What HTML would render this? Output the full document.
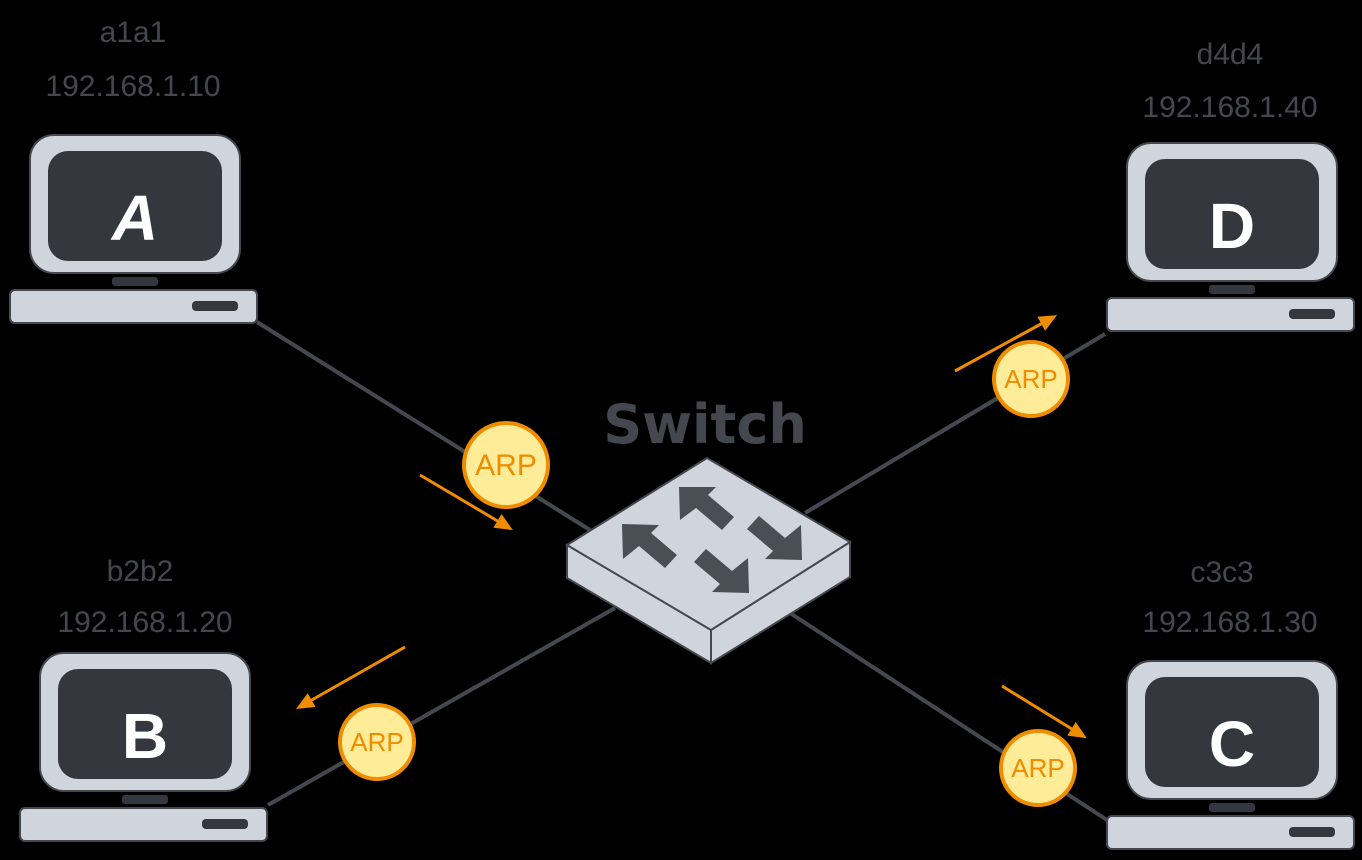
<!DOCTYPE html>
<html><head><meta charset="utf-8"><style>
html,body{margin:0;padding:0;background:#000;}
svg{display:block}
.lbl{font-family:"Liberation Sans",sans-serif;fill:#44484e;font-size:30px;text-anchor:middle}
.let{font-family:"Liberation Sans",sans-serif;fill:#fff;font-size:64px;text-anchor:middle;font-weight:bold}
.arp{font-family:"Liberation Sans",sans-serif;fill:#f08c00;font-size:26px;text-anchor:middle}
</style></head><body>
<svg width="1362" height="860" viewBox="0 0 1362 860" xmlns="http://www.w3.org/2000/svg">
<defs>
<g id="pc">
<rect x="0" y="0" width="210" height="138" rx="24" fill="#d0d4dc" stroke="#45494f" stroke-width="2"/>
<rect x="18" y="16" width="174" height="110" rx="20" fill="#34383e"/>
<rect x="82" y="142" width="46" height="9" rx="3" fill="#34383e"/>
<rect x="-20" y="155" width="247" height="33" rx="5" fill="#d0d4dc" stroke="#45494f" stroke-width="2"/>
<rect x="162" y="166" width="46" height="10" rx="4" fill="#34383e"/>
</g>
<marker id="ah" markerWidth="18" markerHeight="16" refX="10" refY="8" orient="auto" markerUnits="userSpaceOnUse"><path d="M0,0 L18,8 L0,16 z" fill="#f08c00"/></marker>
</defs>
<g stroke="#45494f" stroke-width="4">
<line x1="257" y1="322" x2="590" y2="530"/>
<line x1="1105" y1="334" x2="805" y2="513"/>
<line x1="268" y1="805" x2="615" y2="608"/>
<line x1="790" y1="613" x2="1107" y2="820"/>
</g>
<polygon points="567,545 711,630 711,663 567,578" fill="#d0d4dc" stroke="#45494f" stroke-width="2"/>
<polygon points="711,630 850,542 850,577 711,663" fill="#d0d4dc" stroke="#45494f" stroke-width="2"/>
<polygon points="707,458 567,545 711,630 850,542" fill="#d0d4dc" stroke="#45494f" stroke-width="2"/>
<g fill="#4a4e55">
<polygon points="679,487 716,487 708,495 734,517 722,530 696,508 680,520"/>
<polygon points="622,524 659,525 651,533 677,555 665,568 639,546 623,559"/>
<polygon points="802,560 765,559 773,551 747,529 759,516 785,538 801,525"/>
<polygon points="749,593 712,592 720,584 694,562 706,549 732,571 748,558"/>
</g>
<text x="705" y="443" class="lbl" style="font-size:54px;font-family:'DejaVu Sans',sans-serif;font-weight:bold">Switch</text>
<use href="#pc" x="30" y="135"/>
<use href="#pc" x="1127" y="143"/>
<use href="#pc" x="40" y="653"/>
<use href="#pc" x="1127" y="661"/>
<text x="135" y="240" class="let" font-style="italic">A</text>
<text x="1232" y="248" class="let">D</text>
<text x="145" y="758" class="let">B</text>
<text x="1232" y="766" class="let">C</text>
<text x="133" y="42" class="lbl">a1a1</text>
<text x="133" y="96" class="lbl">192.168.1.10</text>
<text x="1230" y="64" class="lbl">d4d4</text>
<text x="1230" y="117" class="lbl">192.168.1.40</text>
<text x="140" y="581" class="lbl">b2b2</text>
<text x="145" y="632" class="lbl">192.168.1.20</text>
<text x="1222" y="582" class="lbl">c3c3</text>
<text x="1230" y="632" class="lbl">192.168.1.30</text>
<g stroke="#f08c00" stroke-width="3" marker-end="url(#ah)">
<line x1="420" y1="475" x2="506" y2="526"/>
<line x1="955" y1="371" x2="1050" y2="319"/>
<line x1="405" y1="647" x2="303" y2="705"/>
<line x1="1002" y1="686" x2="1080" y2="734"/>
</g>
<g fill="#ffec99" stroke="#f08c00" stroke-width="4">
<circle cx="506" cy="465" r="42"/>
<circle cx="1031" cy="379" r="37"/>
<circle cx="377" cy="742" r="37"/>
<circle cx="1038" cy="768" r="37"/>
</g>
<text x="506" y="475" class="arp" style="font-size:30px">ARP</text>
<text x="1031" y="388" class="arp">ARP</text>
<text x="377" y="751" class="arp">ARP</text>
<text x="1038" y="777" class="arp">ARP</text>
</svg>
</body></html>
